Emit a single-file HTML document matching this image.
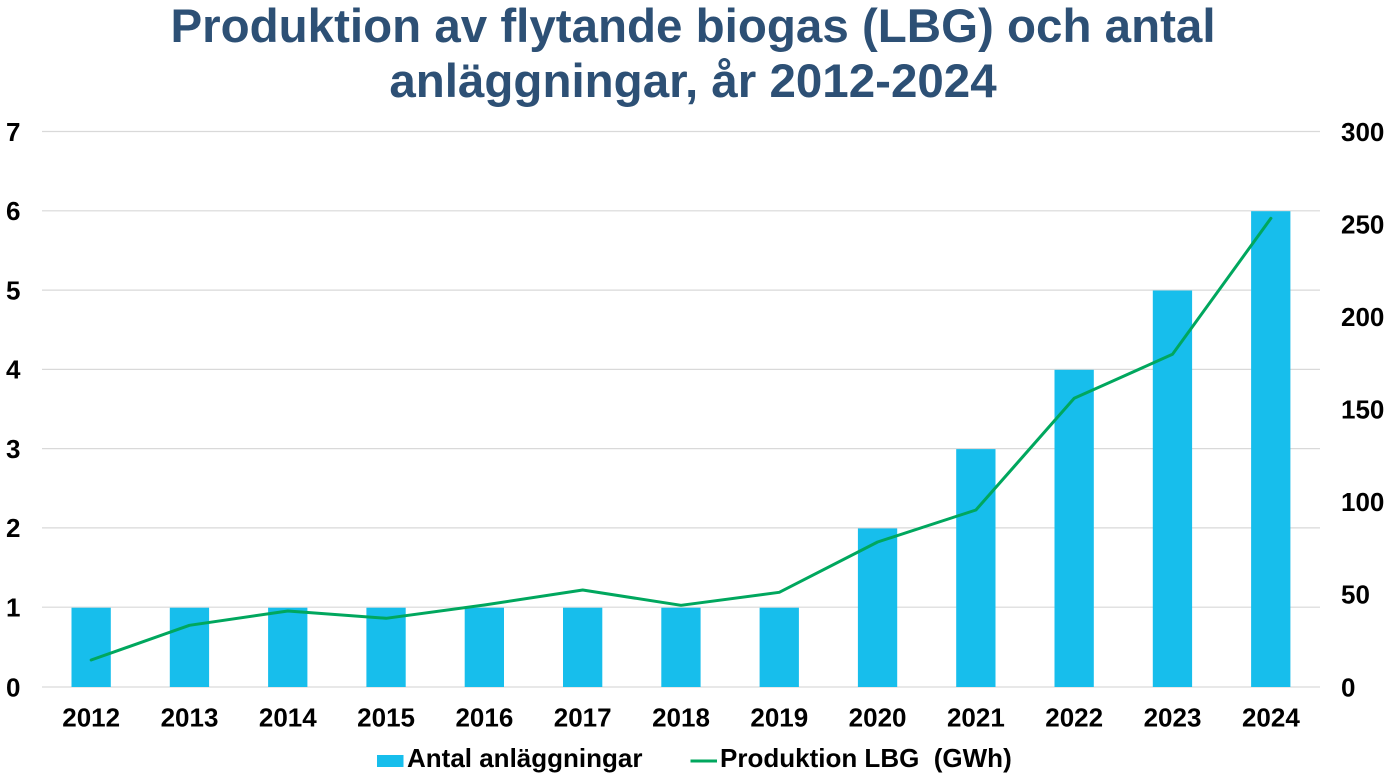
<!DOCTYPE html>
<html>
<head>
<meta charset="utf-8">
<style>
  html, body { margin: 0; padding: 0; background: #ffffff; }
  body { width: 1388px; height: 776px; overflow: hidden; }
  svg { display: block; }
  text { font-family: "Liberation Sans", Arial, sans-serif; font-weight: bold; }
</style>
</head>
<body>
<svg width="1388" height="776" viewBox="0 0 1388 776" xmlns="http://www.w3.org/2000/svg">
  <rect x="0" y="0" width="1388" height="776" fill="#ffffff"/>

  <!-- Title -->
  <text x="693" y="42" text-anchor="middle" font-size="47.5" fill="#2D5075">Produktion av flytande biogas (LBG) och antal</text>
  <text x="693" y="97" text-anchor="middle" font-size="47.5" fill="#2D5075">anläggningar, år 2012-2024</text>

  <!-- Gridlines -->
  <g stroke="#D9D9D9" stroke-width="1.2">
    <line x1="42" y1="131.5" x2="1320" y2="131.5"/>
    <line x1="42" y1="210.8" x2="1320" y2="210.8"/>
    <line x1="42" y1="290.1" x2="1320" y2="290.1"/>
    <line x1="42" y1="369.4" x2="1320" y2="369.4"/>
    <line x1="42" y1="448.6" x2="1320" y2="448.6"/>
    <line x1="42" y1="527.9" x2="1320" y2="527.9"/>
    <line x1="42" y1="607.2" x2="1320" y2="607.2"/>
    <line x1="42" y1="687" x2="1320" y2="687"/>
  </g>

  <!-- Left axis labels -->
  <g font-size="26" fill="#000" text-anchor="end">
    <text x="20.5" y="140.8">7</text>
    <text x="20.5" y="220.1">6</text>
    <text x="20.5" y="299.4">5</text>
    <text x="20.5" y="378.7">4</text>
    <text x="20.5" y="457.9">3</text>
    <text x="20.5" y="537.2">2</text>
    <text x="20.5" y="616.5">1</text>
    <text x="20.5" y="696.3">0</text>
  </g>

  <!-- Right axis labels -->
  <g font-size="26" fill="#000" text-anchor="start">
    <text x="1341" y="140.8">300</text>
    <text x="1341" y="233.3">250</text>
    <text x="1341" y="325.8">200</text>
    <text x="1341" y="418.3">150</text>
    <text x="1341" y="510.8">100</text>
    <text x="1341" y="603.3">50</text>
    <text x="1341" y="696.3">0</text>
  </g>

  <!-- Bars -->
  <g fill="#17BEEC">
    <rect x="71.5" y="607.7" width="39.3" height="79.3"/>
    <rect x="169.8" y="607.7" width="39.3" height="79.3"/>
    <rect x="268.1" y="607.7" width="39.3" height="79.3"/>
    <rect x="366.4" y="607.7" width="39.3" height="79.3"/>
    <rect x="464.7" y="607.7" width="39.3" height="79.3"/>
    <rect x="563.0" y="607.7" width="39.3" height="79.3"/>
    <rect x="661.3" y="607.7" width="39.3" height="79.3"/>
    <rect x="759.6" y="607.7" width="39.3" height="79.3"/>
    <rect x="857.9" y="528.4" width="39.3" height="158.6"/>
    <rect x="956.2" y="449.1" width="39.3" height="237.9"/>
    <rect x="1054.5" y="369.8" width="39.3" height="317.2"/>
    <rect x="1152.8" y="290.5" width="39.3" height="396.5"/>
    <rect x="1251.1" y="211.2" width="39.3" height="475.8"/>
  </g>

  <!-- Line -->
  <polyline fill="none" stroke="#00A75E" stroke-width="3" stroke-linejoin="round" stroke-linecap="round"
    points="91.15,660 189.5,625.3 287.8,611 386.1,618.3 484.4,605 582.7,590 681,605.3 779.3,592.3 877.6,542 975.9,510 1074.2,398.3 1172.5,354.3 1270.9,218.3"/>

  <!-- X axis labels -->
  <g font-size="26" fill="#000" text-anchor="middle">
    <text x="91.2" y="726.7">2012</text>
    <text x="189.5" y="726.7">2013</text>
    <text x="287.8" y="726.7">2014</text>
    <text x="386.1" y="726.7">2015</text>
    <text x="484.4" y="726.7">2016</text>
    <text x="582.7" y="726.7">2017</text>
    <text x="681" y="726.7">2018</text>
    <text x="779.3" y="726.7">2019</text>
    <text x="877.6" y="726.7">2020</text>
    <text x="975.9" y="726.7">2021</text>
    <text x="1074.2" y="726.7">2022</text>
    <text x="1172.5" y="726.7">2023</text>
    <text x="1270.9" y="726.7">2024</text>
  </g>

  <!-- Legend -->
  <rect x="377" y="755" width="26.5" height="12" fill="#17BEEC"/>
  <text x="407" y="767" font-size="26" fill="#000">Antal anläggningar</text>
  <line x1="690.5" y1="761" x2="717" y2="761" stroke="#00A75E" stroke-width="3"/>
  <text x="720" y="767" font-size="26" fill="#000">Produktion LBG&#160; (GWh)</text>
</svg>
</body>
</html>
